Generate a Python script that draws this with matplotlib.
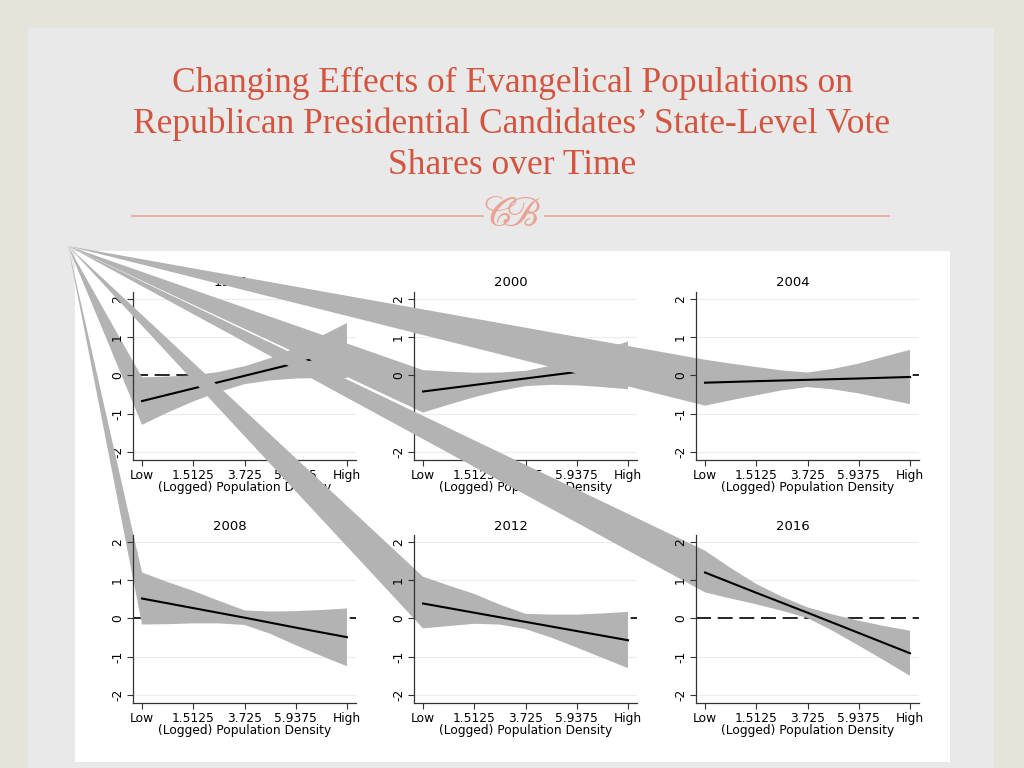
import numpy as np
import matplotlib
matplotlib.use("Agg")
import matplotlib.pyplot as plt
from matplotlib.patches import Rectangle

# Data #
years = ["1996", "2000", "2004", "2008", "2012", "2016"]
tick_pos = [-0.7, 1.5125, 3.725, 5.9375, 8.15]
tick_labels = ["Low", "1.5125", "3.725", "5.9375", "High"]
band_x = [-0.7, 0.40625, 1.5125, 2.61875, 3.725, 4.83125, 5.9375, 7.04375, 8.15]

# marginal effect (line) at the five x ticks
line_1996 = [-0.67, -0.34, -0.01, 0.32, 0.65]
line_2000 = [-0.42, -0.25, -0.08, 0.09, 0.26]
line_2004 = [-0.19, -0.15, -0.115, -0.08, -0.04]
line_2008 = [0.52, 0.27, 0.02, -0.24, -0.49]
line_2012 = [0.39, 0.15, -0.09, -0.33, -0.57]
line_2016 = [1.20, 0.67, 0.15, -0.38, -0.91]

# confidence band edges at band_x
upper_1996 = [-0.05, -0.03, 0.0, 0.09, 0.24, 0.45, 0.72, 1.03, 1.37]
lower_1996 = [-1.29, -0.97, -0.68, -0.43, -0.23, -0.13, -0.08, -0.07, -0.07]
upper_2000 = [0.14, 0.10, 0.07, 0.075, 0.12, 0.255, 0.44, 0.655, 0.89]
lower_2000 = [-0.97, -0.765, -0.57, -0.405, -0.28, -0.245, -0.26, -0.305, -0.36]
upper_2004 = [0.41, 0.31, 0.22, 0.13, 0.075, 0.17, 0.31, 0.49, 0.67]
lower_2004 = [-0.79, -0.65, -0.52, -0.39, -0.305, -0.365, -0.47, -0.61, -0.75]
upper_2008 = [1.20, 0.95, 0.72, 0.46, 0.21, 0.18, 0.19, 0.22, 0.26]
lower_2008 = [-0.16, -0.15, -0.13, -0.13, -0.17, -0.40, -0.70, -0.98, -1.25]
upper_2012 = [1.09, 0.86, 0.64, 0.36, 0.12, 0.10, 0.10, 0.13, 0.17]
lower_2012 = [-0.26, -0.20, -0.14, -0.16, -0.28, -0.50, -0.76, -1.03, -1.30]
upper_2016 = [1.77, 1.32, 0.90, 0.57, 0.29, 0.10, -0.06, -0.20, -0.32]
lower_2016 = [0.68, 0.52, 0.37, 0.20, 0.01, -0.33, -0.71, -1.10, -1.50]

lines = [line_1996, line_2000, line_2004, line_2008, line_2012, line_2016]
uppers = [upper_1996, upper_2000, upper_2004, upper_2008, upper_2012, upper_2016]
lowers = [lower_1996, lower_2000, lower_2004, lower_2008, lower_2012, lower_2016]

title_lines = ["Changing Effects of Evangelical Populations on",
               "Republican Presidential Candidates\u2019 State-Level Vote",
               "Shares over Time"]

# Layout (pixels) #
W, H = 1024, 768
col_left = [133, 414, 696]
row_top = [292, 535]
ax_w, ax_h = 223, 168
apex_px = (68, 246)   # point where every band polygon starts in the slide

fig = plt.figure(figsize=(W / 100, H / 100), dpi=100)
fig.patch.set_facecolor("#e4e4d9")

def px_rect(x0, y0, x1, y1, color):
    r = Rectangle((x0 / W, 1 - y1 / H), (x1 - x0) / W, (y1 - y0) / H,
                  transform=fig.transFigure, color=color, lw=0, zorder=-2)
    fig.add_artist(r)

# slide background and white picture
px_rect(28, 28, 994, 768, "#e9e9e9")
px_rect(75, 251, 950, 762, "white")

# slide title
title_color = "#d3553f"
for k, t in enumerate(title_lines):
    fig.text(0.5, 1 - (83 + 41 * k) / H, t, ha="center", va="center",
             fontsize=25.5, color=title_color, family="Liberation Serif")

# decorative rule with ornament
deco = "#e8a393"
fig.add_artist(plt.Line2D([132 / W, 483 / W], [1 - 216 / H] * 2, color=deco, lw=1.2))
fig.add_artist(plt.Line2D([545 / W, 889 / W], [1 - 216 / H] * 2, color=deco, lw=1.2))
plt.rcParams["mathtext.fontset"] = "stix"
fig.text(512 / W, 1 - 214 / H, r"$\mathscr{C}\!\!\!\mathscr{B}$", ha="center", va="center",
         fontsize=30, color=deco)

apex_fig = (apex_px[0] / W, 1 - apex_px[1] / H)

for i, yr in enumerate(years):
    row, col = divmod(i, 3)
    ax = fig.add_axes([col_left[col] / W, 1 - (row_top[row] + ax_h) / H, ax_w / W, ax_h / H])
    ax.set_xlim(-1.09, 8.54)
    ax.set_ylim(-2.21, 2.18)
    ax.patch.set_alpha(0)

    # light grid and dashed zero line (under the band)
    for g in [-2, -1, 1, 2]:
        ax.axhline(g, color="#ececec", lw=0.8, zorder=0)
    ax.axhline(0, color="black", lw=1.2, ls=(0, (9, 4)), zorder=0.5)

    # band polygon, starting from the stray apex point like in the slide
    apex = ax.transData.inverted().transform(fig.transFigure.transform(apex_fig))
    bx = [apex[0]] + band_x + band_x[::-1]
    by = [apex[1]] + uppers[i] + lowers[i][::-1]
    ax.fill(bx, by, color="#b3b3b3", lw=0, clip_on=False, zorder=1)

    ax.plot(tick_pos, lines[i], color="black", lw=1.5, zorder=2)

    # axes look
    for s in ["top", "right"]:
        ax.spines[s].set_visible(False)
    for s in ["left", "bottom"]:
        ax.spines[s].set_linewidth(0.9)
        ax.spines[s].set_color("#333333")
    ax.set_xticks(tick_pos)
    ax.set_xticklabels(tick_labels, fontsize=8.8, family="DejaVu Sans")
    ax.set_yticks([-2, -1, 0, 1, 2])
    ax.set_yticklabels(["-2", "-1", "0", "1", "2"], fontsize=8.8, family="DejaVu Sans",
                       rotation=90, va="center")
    ax.tick_params(length=4.5, width=0.8, pad=2, color="#333333")
    ax.set_xlabel("(Logged) Population Density", fontsize=8.8, family="DejaVu Sans",
                  labelpad=-1)
    ax.text(97 / ax_w, 1 + 9 / ax_h, yr, transform=ax.transAxes, ha="center",
            va="center", fontsize=9.5, family="DejaVu Sans")

fig.savefig("out.png", dpi=100, facecolor=fig.get_facecolor())
